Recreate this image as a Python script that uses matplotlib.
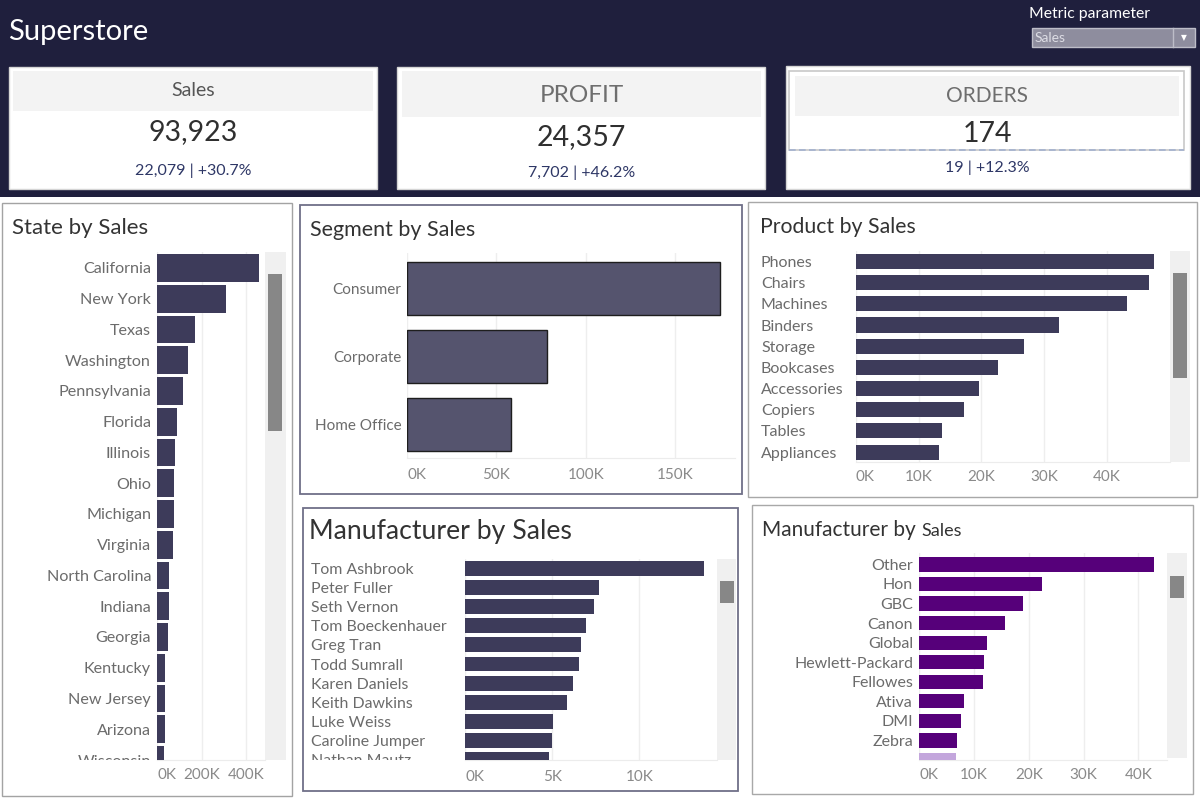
import matplotlib
matplotlib.use('Agg')
import matplotlib.pyplot as plt
from matplotlib.patches import Rectangle
from matplotlib.transforms import Bbox, TransformedBbox
from matplotlib.ticker import FuncFormatter, FixedLocator

plt.rcParams['font.family'] = ['Lato', 'DejaVu Sans']

# ---------------- data ----------------
kpi_titles = ['Sales', 'PROFIT', 'ORDERS']
kpi_values = [93923, 24357, 174]
kpi_prev = [22079, 7702, 19]
kpi_change = [30.7, 46.2, 12.3]

states = ['California', 'New York', 'Texas', 'Washington', 'Pennsylvania', 'Florida',
          'Illinois', 'Ohio', 'Michigan', 'Virginia', 'North Carolina', 'Indiana',
          'Georgia', 'Kentucky', 'New Jersey', 'Arizona', 'Wisconsin']
state_sales = [458000, 310000, 169000, 137000, 115000, 88000, 79000, 76000, 76000,
               70000, 55000, 54000, 49000, 36000, 35500, 35000, 32000]
state_ticks = [0, 200000, 400000]

segments = ['Consumer', 'Corporate', 'Home Office']
segment_sales = [175300, 78500, 58100]
segment_ticks = [0, 50000, 100000, 150000]

products = ['Phones', 'Chairs', 'Machines', 'Binders', 'Storage', 'Bookcases',
            'Accessories', 'Copiers', 'Tables', 'Appliances']
product_sales = [47500, 46700, 43200, 32400, 26800, 22700, 19600, 17200, 13700, 13200]
product_ticks = [0, 10000, 20000, 30000, 40000]

customers = ['Tom Ashbrook', 'Peter Fuller', 'Seth Vernon', 'Tom Boeckenhauer', 'Greg Tran',
             'Todd Sumrall', 'Karen Daniels', 'Keith Dawkins', 'Luke Weiss',
             'Caroline Jumper', 'Nathan Mautz']
customer_sales = [13740, 7660, 7380, 6950, 6670, 6510, 6210, 5860, 5060, 5000, 4830]
customer_ticks = [0, 5000, 10000]

manufacturers = ['Other', 'Hon', 'GBC', 'Canon', 'Global', 'Hewlett-Packard', 'Fellowes',
                 'Ativa', 'DMI', 'Zebra', '']
manufacturer_sales = [42900, 22500, 19000, 15700, 12400, 11850, 11700, 8200, 7660, 6870, 6700]
manufacturer_ticks = [0, 10000, 20000, 30000, 40000]

# ---------------- figure ----------------
W, H = 1200, 802
fig = plt.figure(figsize=(12, 8.02), dpi=100)
fig.patch.set_facecolor('white')
bg = fig.add_axes([0, 0, 1, 1])
bg.set_xlim(0, W)
bg.set_ylim(H, 0)
bg.axis('off')
bg.set_zorder(0)

NAVY = '#1f1f3d'
BAR = '#3d3b5a'
CAT = '#6b6b6b'
TICK = '#8a8a8a'


def rect(x0, y0, x1, y1, fc='none', ec='none', lw=0, **kw):
    bg.add_patch(Rectangle((x0, y0), x1 - x0, y1 - y0, facecolor=fc, edgecolor=ec,
                           linewidth=lw, **kw))


def txt(x, y, s, **kw):
    kw.setdefault('va', 'center')
    return bg.text(x, y, s, **kw)


# header
rect(0, 0, W, 197, fc=NAVY)
txt(8, 32, 'Superstore', color='white', fontsize=21)
txt(1029, 14, 'Metric parameter', color='white', fontsize=11.3)
rect(1032, 28, 1195, 47, fc='#8e8d9e', ec='#bdbdc8', lw=1)
bg.plot([1173, 1173], [28, 47], color='#bdbdc8', lw=1)
txt(1035, 38, 'Sales', color='#dcdce4', fontsize=10)
txt(1184, 38, '▼', color='white', fontsize=5.5, ha='center', family='DejaVu Sans')

# KPI cards
cards = [
    dict(box=(9, 67, 377, 189), band=(13, 71, 373, 111), ty=90, vy=132, sy=171,
         tsize=14, tcol='#555555'),
    dict(box=(397, 67, 765, 189), band=(402, 71, 761, 117), ty=95, vy=137, sy=173,
         tsize=17.5, tcol='#6e6e6e'),
    dict(box=(786, 66, 1190, 189), band=(795, 76, 1179, 116), ty=96, vy=134, sy=168,
         tsize=15, tcol='#6e6e6e'),
]
for i, c in enumerate(cards):
    x0, y0, x1, y1 = c['box']
    rect(x0, y0, x1, y1, fc='white', ec='#d5d5d5', lw=1)
    bx0, by0, bx1, by1 = c['band']
    rect(bx0, by0, bx1, by1, fc='#f3f3f3')
    cx = (bx0 + bx1) / 2
    txt(cx, c['ty'], kpi_titles[i], ha='center', fontsize=c['tsize'], color=c['tcol'])
    txt(cx, c['vy'], f"{kpi_values[i]:,}", ha='center', fontsize=20.5, color='#2f2f2f')
    txt(cx, c['sy'], f"{kpi_prev[i]:,} | +{kpi_change[i]:.1f}%", ha='center',
        fontsize=11.5, color='#2e3766')
# inner frame and dashed line for ORDERS card
rect(789, 71, 1184, 150, ec='#c8c8c8', lw=1.2)
bg.plot([789, 1184], [150, 150], color='#a3b1cf', lw=1.2, ls=(0, (4, 2)))

# panels
rect(2, 203, 292, 796, fc='white', ec='#a3a3a3', lw=1)
rect(300, 205, 742, 494, fc='white', ec='#6f6f88', lw=1.3)
rect(748, 202, 1197, 497, fc='white', ec='#a8a8a8', lw=1)
rect(303, 508, 738, 791, fc='white', ec='#6f6f88', lw=1.3)
rect(752, 505, 1193, 794, fc='white', ec='#a8a8a8', lw=1)

txt(12, 228, 'State by Sales', fontsize=16, color='#333333')
txt(310, 230, 'Segment by Sales', fontsize=15.5, color='#333333')
txt(760, 227, 'Product by Sales', fontsize=15.3, color='#333333')
txt(309, 532, 'Manufacturer by Sales', fontsize=19.2, color='#333333')
t1 = bg.text(762, 536, 'Manufacturer by ', fontsize=15, color='#333333', va='baseline')
r = fig.canvas.get_renderer()
bb = t1.get_window_extent(renderer=r)
bg.text(bb.x1, 536, 'Sales', fontsize=13, color='#333333', va='baseline')

# scrollbars (track, thumb)
scrolls = [
    ((265, 252, 286, 760), (268, 274, 282, 431)),
    ((1170, 251, 1190, 462), (1173, 273, 1187, 378)),
    ((717, 559, 736, 760), (720, 581, 734, 603)),
    ((1167, 553, 1187, 758), (1170, 576, 1184, 598)),
]
for track, thumb in scrolls:
    rect(*track, fc='#f0f0f0')
    rect(*thumb, fc='#878787')

kfmt = FuncFormatter(lambda v, _: f"{v / 1000:.0f}K")


def bar_panel(box, cats, vals, xmax, ticks, row0, spacing, frac, colors,
              label_left=None, fs=11, tick_pad=7, edge=None, tick_fs=11):
    x0, y0, x1, y1 = box
    ax = fig.add_axes([x0 / W, 1 - y1 / H, (x1 - x0) / W, (y1 - y0) / H])
    ax.set_zorder(2)
    ax.patch.set_alpha(0)
    n = len(cats)
    ax.barh(range(n), vals, height=frac, color=colors,
            edgecolor=edge if edge else 'none', linewidth=1 if edge else 0, zorder=3)
    ax.set_xlim(0, xmax)
    ax.set_ylim((y1 - row0) / spacing, (y0 - row0) / spacing)
    ax.xaxis.set_major_locator(FixedLocator(ticks))
    ax.xaxis.set_major_formatter(kfmt)
    ax.set_yticks(range(n))
    ax.set_yticklabels(cats)
    ax.grid(axis='x', color='#eeeeee', lw=1, zorder=0)
    ax.set_axisbelow(True)
    for s in ['top', 'right', 'left']:
        ax.spines[s].set_visible(False)
    ax.spines['bottom'].set_color('#ececec')
    ax.tick_params(axis='x', length=0, pad=tick_pad, labelsize=tick_fs, labelcolor=TICK)
    if label_left is None:
        ax.tick_params(axis='y', length=0, pad=4.3, labelsize=fs, labelcolor=CAT)
    else:
        pad_pt = (x0 - label_left) * 72 / 100
        ax.tick_params(axis='y', length=0, pad=pad_pt, labelsize=fs, labelcolor=CAT)
        for lab in ax.get_yticklabels():
            lab.set_ha('left')
    clip = TransformedBbox(Bbox([[0, 1 - y1 / H], [1, 1 - y0 / H]]), fig.transFigure)
    for lab in ax.get_yticklabels():
        lab.set_clip_box(clip)
        lab.set_clip_on(True)
    ax.get_xticklabels()[0].set_ha('left')
    return ax


bar_panel((157, 252, 265, 760), states, state_sales, 485000, state_ticks,
          268, 31, 28 / 31, BAR, fs=11.6, tick_pad=6)
bar_panel((407.3, 253, 735, 458), segments, segment_sales, 183700, segment_ticks,
          288.5, 68, 0.78, '#55546e', fs=11, tick_pad=7, edge='#1e1e1e')
bar_panel((855.7, 251, 1170, 462), products, product_sales, 50000, product_ticks,
          261.5, 21.17, 0.71, BAR, label_left=761, fs=11.5, tick_pad=6)
bar_panel((465.3, 559.3, 717, 760), customers, customer_sales, 14470, customer_ticks,
          568.5, 19.1, 0.785, BAR, label_left=311, fs=11.4, tick_pad=7)
mcolors = ['#56007a'] * (len(manufacturers) - 1) + ['#c3a6dc']
bar_panel((919, 553.3, 1167, 760), manufacturers, manufacturer_sales, 45200,
          manufacturer_ticks, 564.7, 20.07, 0.73, mcolors, fs=11.5, tick_pad=6)

fig.savefig('out.png', dpi=100)
